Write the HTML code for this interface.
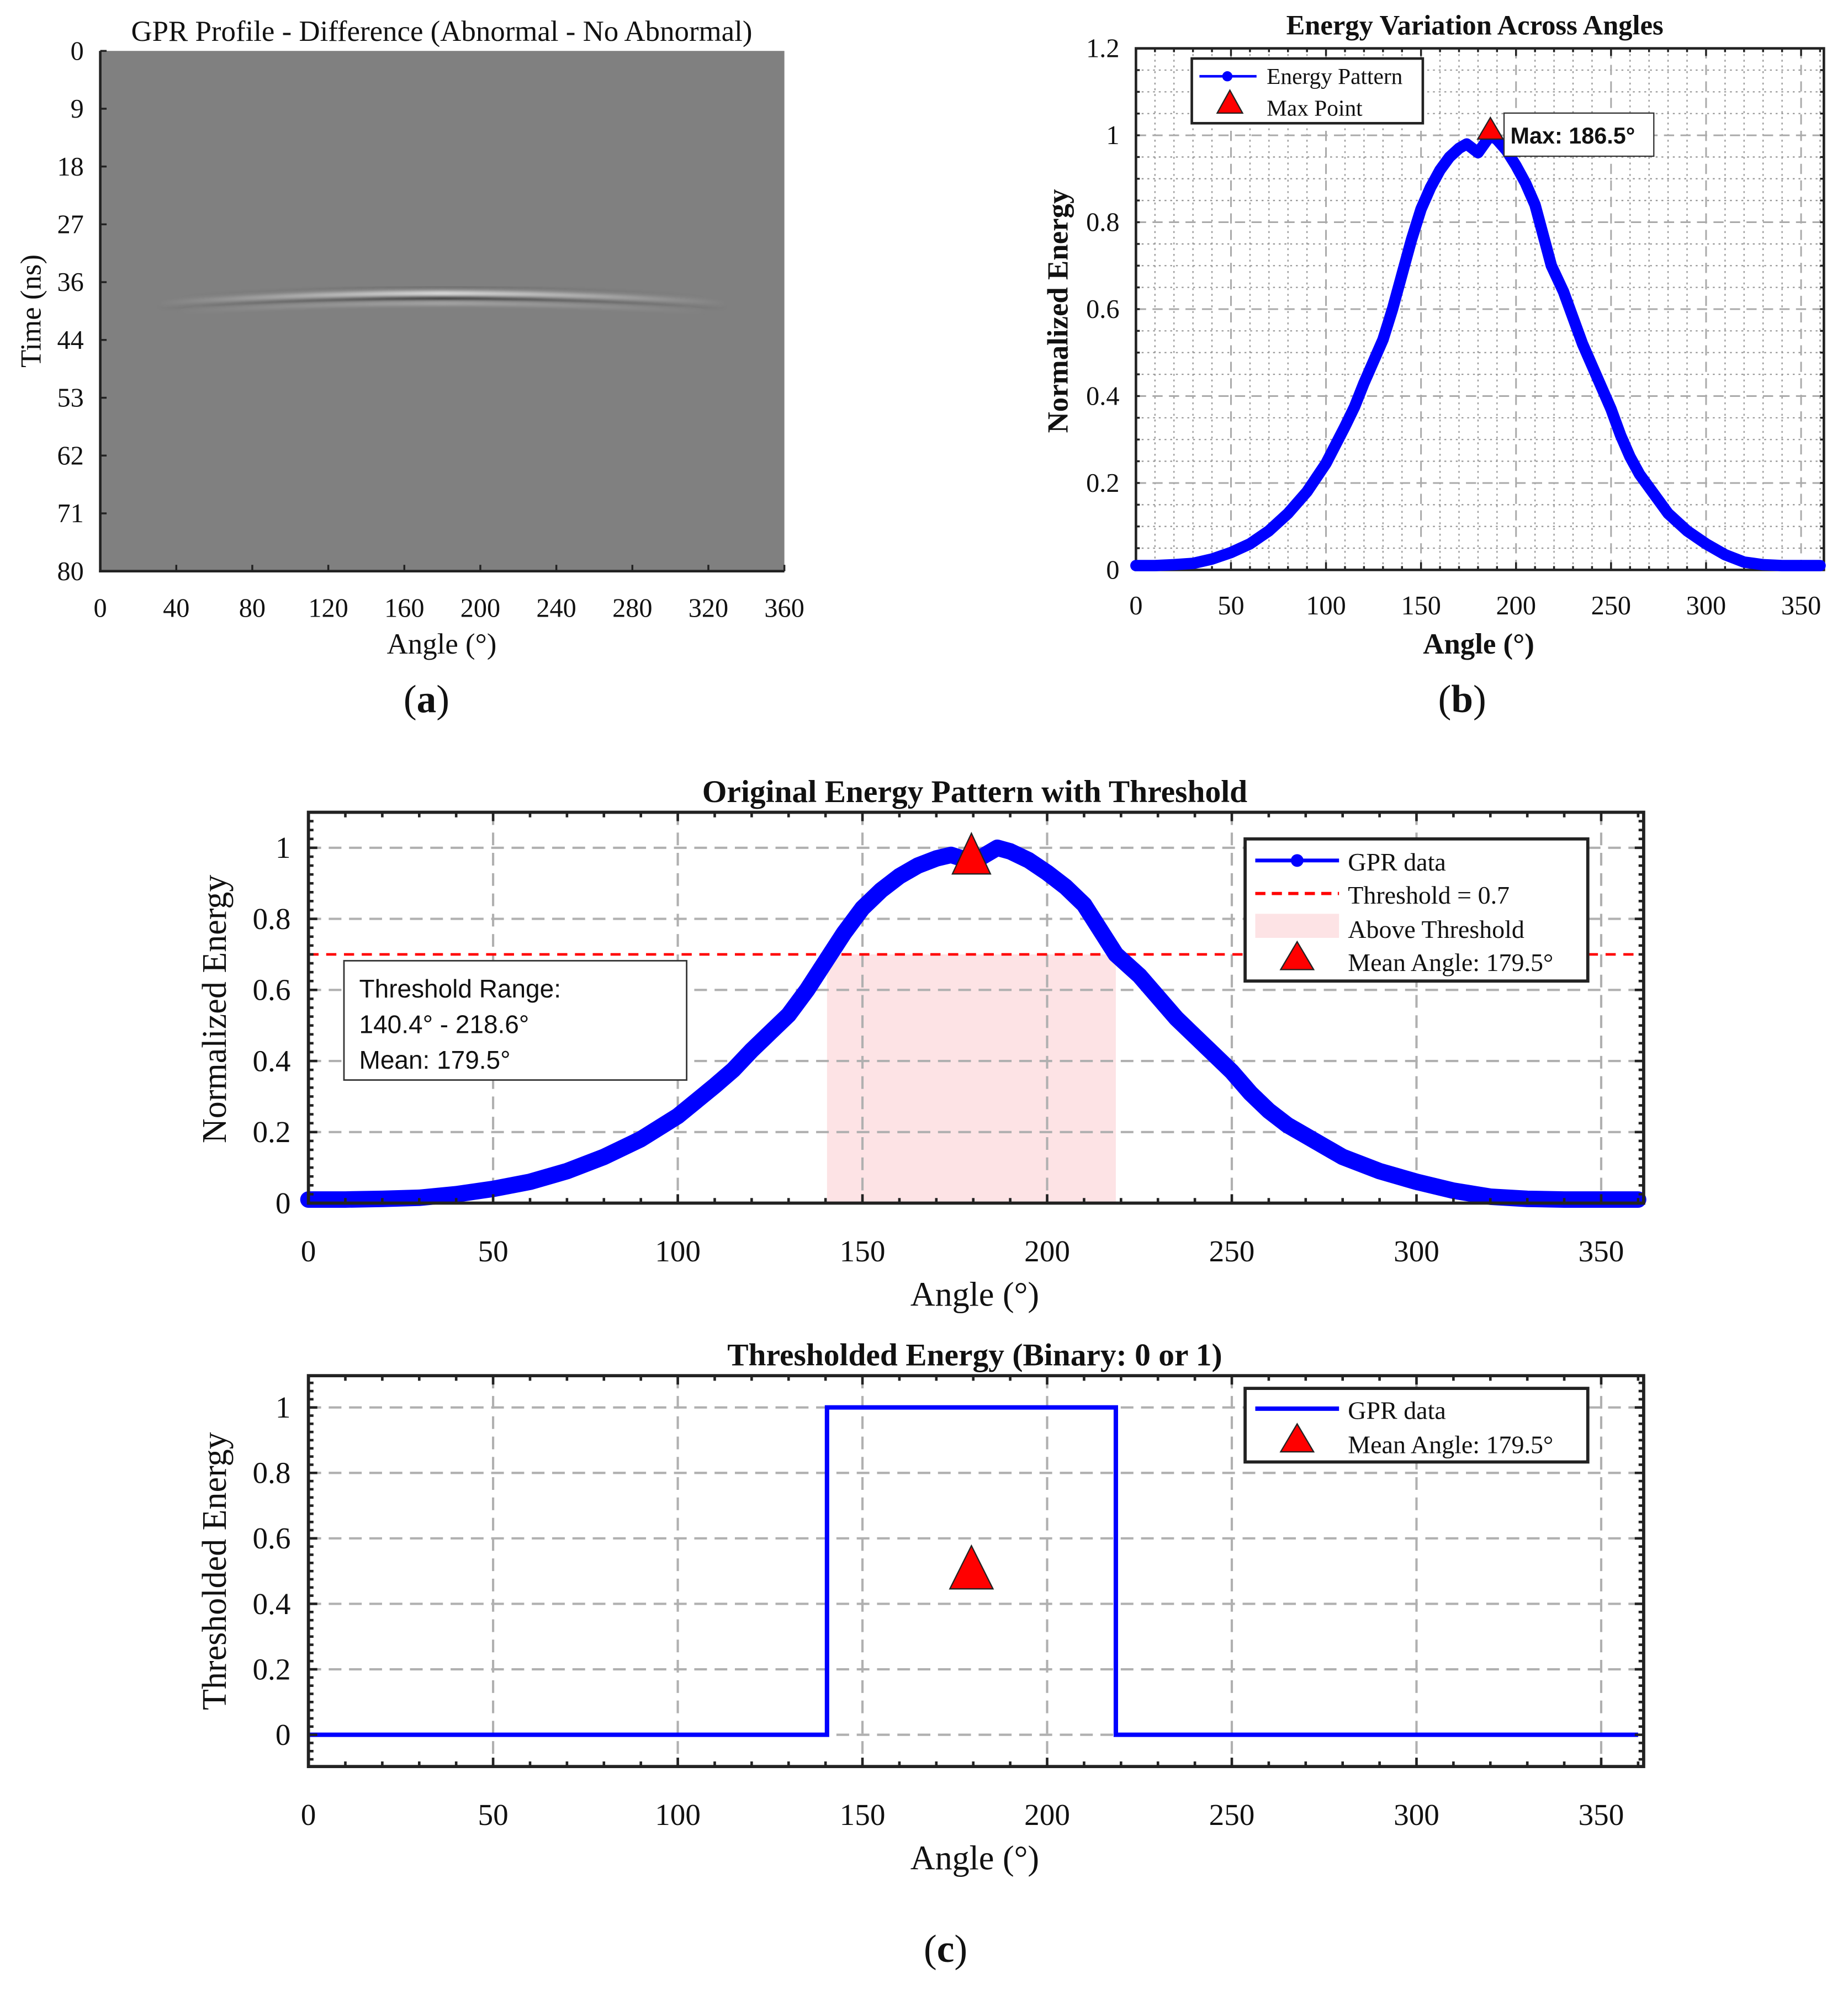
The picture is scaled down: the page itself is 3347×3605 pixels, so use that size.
<!DOCTYPE html>
<html><head><meta charset="utf-8"><style>
html,body{margin:0;padding:0;background:#fff;}
svg{display:block;}
text{font-family:"Liberation Serif",serif;fill:#111;}
.sans{font-family:"Liberation Sans",sans-serif;}
</style></head><body>
<svg id="fig" width="3347" height="3605" viewBox="0 0 1456 1568" xmlns="http://www.w3.org/2000/svg">
<defs>
<linearGradient id="fadeH" x1="0" x2="1" y1="0" y2="0">
<stop offset="0" stop-opacity="0" stop-color="#fff"/><stop offset="0.3" stop-opacity="0.6" stop-color="#fff"/><stop offset="0.5" stop-opacity="1" stop-color="#fff"/><stop offset="0.7" stop-opacity="0.6" stop-color="#fff"/><stop offset="1" stop-opacity="0" stop-color="#fff"/>
</linearGradient>
<linearGradient id="fadeD" x1="0" x2="1" y1="0" y2="0">
<stop offset="0" stop-opacity="0" stop-color="#000"/><stop offset="0.3" stop-opacity="0.5" stop-color="#000"/><stop offset="0.5" stop-opacity="1" stop-color="#000"/><stop offset="0.7" stop-opacity="0.5" stop-color="#000"/><stop offset="1" stop-opacity="0" stop-color="#000"/>
</linearGradient>
<filter id="blur"><feGaussianBlur stdDeviation="1.4"/></filter>
</defs>
</svg>
<script>
// ---- data ----
const angles = [0,10,20,30,40,50,60,70,80,90,100,110,115,120,125,130,135,140,145,150,155,160,165,170,174,180,186.5,190,195,200,205,210,218.6,225,230,235,240,245,250,255,260,265,270,275,280,285,290,300,310,320,330,340,350,360];
const energy = [0.01,0.01,0.012,0.015,0.025,0.04,0.06,0.09,0.13,0.18,0.245,0.33,0.375,0.43,0.48,0.53,0.6,0.68,0.76,0.83,0.88,0.92,0.95,0.97,0.98,0.96,1.0,0.99,0.965,0.93,0.89,0.84,0.7,0.64,0.58,0.52,0.47,0.42,0.37,0.31,0.26,0.22,0.19,0.16,0.13,0.11,0.09,0.06,0.035,0.018,0.012,0.01,0.01,0.01];
const thrLow = 140.4, thrHigh = 218.6, threshold = 0.7, meanAngle = 179.5, maxAngle = 186.5, maxValue = 1.0;
const binAngles = [0, 140.4, 140.4, 218.6, 218.6, 360];
const binValues = [0, 0, 1, 1, 0, 0];
const aYTicks = ['0','9','18','27','36','44','53','62','71','80'];
const aXTicks = [0,40,80,120,160,200,240,280,320,360];
const bXTicks = [0,50,100,150,200,250,300,350];
const bYTicks = [0,0.2,0.4,0.6,0.8,1,1.2];
const cYTicks = [0,0.2,0.4,0.6,0.8,1];

const svg = document.getElementById('fig');
const NS = 'http://www.w3.org/2000/svg';
function el(tag, attrs, parent){const e=document.createElementNS(NS,tag);for(const k in attrs)e.setAttribute(k,attrs[k]);(parent||svg).appendChild(e);return e;}
function txt(s, attrs, parent){const e=el('text',attrs,parent);e.textContent=s;return e;}
function mkAx(x0,x1,y0,y1,xmin,xmax,ymin,ymax){return {sx:v=>x0+(v-xmin)/(xmax-xmin)*(x1-x0), sy:v=>y1-(v-ymin)/(ymax-ymin)*(y1-y0), x0,x1,y0,y1};}
function fmt(v){return (Math.round(v*10)/10).toString();}
function panelLabel(letter,x,y,g){
  const t=el('text',{x:x,y:y,'font-size':31,'text-anchor':'middle'},g);
  t.appendChild(document.createTextNode('('));
  const b=el('tspan',{'font-weight':'bold'},t);b.textContent=letter;
  t.appendChild(document.createTextNode(')'));
  return t;
}

// ===== Panel (a) =====
(function(){
  const g = el('g',{});
  
  
  const A = mkAx(79,618,40,450,0,360,0,80);
  const bg = el('rect',{x:79,y:40,width:539,height:410,fill:'#808080'},g);
  
  
  const cx = A.sx(180);
  const bandG = el('g',{filter:'url(#blur)'},g);
  
  
  el('path',{d:`M ${A.sx(40)} 235 Q ${cx} 220 ${A.sx(320)} 235`,stroke:'url(#fadeD)','stroke-width':3,fill:'none',opacity:0.25},bandG);
  el('path',{d:`M ${A.sx(30)} 239 Q ${cx} 223 ${A.sx(330)} 239`,stroke:'url(#fadeH)','stroke-width':3,fill:'none',opacity:0.9},bandG);
  el('path',{d:`M ${A.sx(30)} 242 Q ${cx} 227 ${A.sx(330)} 242`,stroke:'url(#fadeD)','stroke-width':3.5,fill:'none',opacity:0.95},bandG);
  el('path',{d:`M ${A.sx(40)} 246 Q ${cx} 232 ${A.sx(320)} 246`,stroke:'url(#fadeH)','stroke-width':2.5,fill:'none',opacity:0.4},bandG);
  el('line',{x1:79,y1:40,x2:79,y2:451,stroke:'#222','stroke-width':2},g);
  el('line',{x1:78,y1:450,x2:618,y2:450,stroke:'#222','stroke-width':2},g);
  aYTicks.forEach((t,i)=>{const y=40+i*410/9;el('line',{x1:79,x2:84,y1:y,y2:y,stroke:'#222','stroke-width':1.5},g);
    const tt=txt(t,{x:66,y:y+7,'font-size':21,'text-anchor':'end'},g);});
  aXTicks.forEach(t=>{const x=A.sx(t);el('line',{x1:x,x2:x,y1:450,y2:445,stroke:'#222','stroke-width':1.5},g);
    const tt=txt(t,{x:x,y:486,'font-size':21,'text-anchor':'middle'},g);});
  const ti=txt('GPR Profile - Difference (Abnormal - No Abnormal)',{x:348,y:32,'font-size':23,'text-anchor':'middle'},g);
  
  const xl=txt('Angle (°)',{x:348,y:515,'font-size':23,'text-anchor':'middle'},g);
  
  const yl=txt('Time (ns)',{x:0,y:0,'font-size':23,'text-anchor':'middle',transform:'translate(32,245) rotate(-90)'},g);
  
  const lab=panelLabel('a',336,561,g);
  
})();

// ===== Panel (b) =====
(function(){
  const g = el('g',{});
  
  
  const A = mkAx(895,1437,38,449,0,362,0,1.2);
  for(let v=10; v<362; v+=10){ if(v%50===0) continue; const x=A.sx(v); el('line',{x1:x,x2:x,y1:38,y2:449,stroke:'#999','stroke-width':1,'stroke-dasharray':'1.5,3'},g);}
  for(let v=0.05; v<1.2; v+=0.05){ if(Math.abs(v*5-Math.round(v*5))<1e-6) continue; const y=A.sy(v); el('line',{x1:895,x2:1437,y1:y,y2:y,stroke:'#999','stroke-width':1,'stroke-dasharray':'1.5,3'},g);}
  bXTicks.forEach(t=>{const x=A.sx(t); if(t>0) el('line',{x1:x,x2:x,y1:38,y2:449,stroke:'#aaa','stroke-width':1.3,'stroke-dasharray':'8,5'},g);});
  bYTicks.forEach(t=>{const y=A.sy(t); if(t>0&&t<1.2) el('line',{x1:895,x2:1437,y1:y,y2:y,stroke:'#aaa','stroke-width':1.3,'stroke-dasharray':'8,5'},g);});
  el('rect',{x:895,y:38,width:542,height:411,fill:'none',stroke:'#222','stroke-width':2},g);
  for(let v=0; v<=360; v+=10){const x=A.sx(v);const L=v%50===0?6:3;el('line',{x1:x,x2:x,y1:449,y2:449-L,stroke:'#222','stroke-width':1.5},g);el('line',{x1:x,x2:x,y1:38,y2:38+L,stroke:'#222','stroke-width':1.5},g);}
  for(let v=0; v<=1.2001; v+=0.05){const y=A.sy(v);const L=3;el('line',{x1:895,x2:895+L,y1:y,y2:y,stroke:'#222','stroke-width':1.5},g);el('line',{x1:1437,x2:1437-L,y1:y,y2:y,stroke:'#222','stroke-width':1.5},g);}
  bXTicks.forEach(t=>{const tt=txt(t,{x:A.sx(t),y:484,'font-size':21,'text-anchor':'middle'},g);});
  bYTicks.forEach(t=>{const tt=txt(fmt(t),{x:882,y:A.sy(t)+7,'font-size':21,'text-anchor':'end'},g);});
  const pts = angles.map((a,i)=>A.sx(a)+','+A.sy(energy[i])).join(' ');
  const c=el('polyline',{points:pts,fill:'none',stroke:'#0000ff','stroke-width':9,'stroke-linejoin':'round','stroke-linecap':'round'},g);
  
  const mx=A.sx(maxAngle), my=A.sy(maxValue);
  const tri=el('polygon',{points:`${mx},${my-14} ${mx-10},${my+3} ${mx+10},${my+3}`,fill:'#ff0000',stroke:'#222','stroke-width':1},g);
  
  const ab=el('rect',{x:1185,y:89,width:118,height:34,fill:'#fff',stroke:'#333','stroke-width':1},g);
  
  const at=txt('Max: '+maxAngle+'°',{x:1190,y:113,'font-size':18,'font-weight':'bold',class:'sans'},g);
  
  const lg=el('g',{},g);
  el('rect',{x:939,y:46,width:182,height:51,fill:'#fff',stroke:'#222','stroke-width':2},lg);
  el('line',{x1:945,x2:990,y1:60,y2:60,stroke:'#0000ff','stroke-width':2},lg);
  el('circle',{cx:967,cy:60,r:4,fill:'#0000ff'},lg);
  txt('Energy Pattern',{x:998,y:66,'font-size':18},lg);
  el('polygon',{points:'969,71 959,89 979,89',fill:'#ff0000',stroke:'#222','stroke-width':1},lg);
  txt('Max Point',{x:998,y:91,'font-size':18},lg);
  const ti=txt('Energy Variation Across Angles',{x:1162,y:27,'font-size':22,'font-weight':'bold','text-anchor':'middle'},g);
  
  const xl=txt('Angle (°)',{x:1165,y:515,'font-size':23,'font-weight':'bold','text-anchor':'middle'},g);
  
  const yl=txt('Normalized Energy',{x:0,y:0,'font-size':23,'font-weight':'bold','text-anchor':'middle',transform:'translate(841,245) rotate(-90)'},g);
  
  const lab=panelLabel('b',1152,561,g);
  
})();

function frameC(g, A, yMin, yMax){
  bXTicks.forEach(t=>{const x=A.sx(t); if(t>0) el('line',{x1:x,x2:x,y1:A.y0,y2:A.y1,stroke:'#b0b0b0','stroke-width':1.8,'stroke-dasharray':'10,6'},g);});
  cYTicks.forEach(t=>{const y=A.sy(t); if(t>yMin+1e-6||yMin<0) el('line',{x1:A.x0,x2:A.x1,y1:y,y2:y,stroke:'#b0b0b0','stroke-width':1.8,'stroke-dasharray':'10,6'},g);});
}
function ticksC(g, A, yMin, yMax){
  el('rect',{x:A.x0,y:A.y0,width:A.x1-A.x0,height:A.y1-A.y0,fill:'none',stroke:'#222','stroke-width':2.5},g);
  for(let v=0; v<=360; v+=10){const x=A.sx(v);const L=v%50===0?7:4;el('line',{x1:x,x2:x,y1:A.y1,y2:A.y1-L,stroke:'#222','stroke-width':2},g);el('line',{x1:x,x2:x,y1:A.y0,y2:A.y0+L,stroke:'#222','stroke-width':2},g);}
  for(let k=Math.ceil(yMin/0.025); k*0.025<=yMax+1e-6; k++){const v=k*0.025;const y=A.sy(v);const L=(Math.abs(v*5-Math.round(v*5))<1e-6)?7:4;el('line',{x1:A.x0,x2:A.x0+L,y1:y,y2:y,stroke:'#222','stroke-width':2},g);el('line',{x1:A.x1,x2:A.x1-L,y1:y,y2:y,stroke:'#222','stroke-width':2},g);}
  bXTicks.forEach(t=>{const tt=txt(t,{x:A.sx(t),y:A.y1+46,'font-size':24,'text-anchor':'middle'},g);});
  cYTicks.forEach(t=>{const tt=txt(fmt(t),{x:A.x0-14,y:A.sy(t)+8,'font-size':24,'text-anchor':'end'},g);});
  const xl=txt('Angle (°)',{x:768,y:A.y1+81,'font-size':27,'text-anchor':'middle'},g);
  
}

(function(){
  const g = el('g',{});
  
  
  const A = mkAx(243,1295,640,948,0,361.5,0,1.1);
  const sh=el('rect',{x:A.sx(thrLow),y:A.sy(threshold),width:A.sx(thrHigh)-A.sx(thrLow),height:A.sy(0)-A.sy(threshold),fill:'#fde3e5'},g);
  
  frameC(g,A,0,1.1);
  const th=el('line',{x1:A.x0,x2:A.x1,y1:A.sy(threshold),y2:A.sy(threshold),stroke:'#ff0000','stroke-width':2,'stroke-dasharray':'8,6'},g);
  
  const pts = angles.map((a,i)=>A.sx(a)+','+A.sy(energy[i])).join(' ');
  const c=el('polyline',{points:pts,fill:'none',stroke:'#0000ff','stroke-width':13,'stroke-linejoin':'round','stroke-linecap':'round'},g);
  
  ticksC(g,A,0,1.1);
  const mx=A.sx(meanAngle), my=A.sy(0.98);
  const tri=el('polygon',{points:`${mx},${my-17} ${mx-15},${my+15} ${mx+15},${my+15}`,fill:'#ff0000',stroke:'#222','stroke-width':1},g);
  
  const bx=el('g',{},g);
  el('rect',{x:271,y:757,width:270,height:94,fill:'#fff',stroke:'#333','stroke-width':1.2},bx);
  txt('Threshold Range:',{x:283,y:786,'font-size':20,class:'sans'},bx);
  txt(thrLow+'° - '+thrHigh+'°',{x:283,y:814,'font-size':20,class:'sans'},bx);
  txt('Mean: '+meanAngle+'°',{x:283,y:842,'font-size':20,class:'sans'},bx);
  const lg=el('g',{},g);
  el('rect',{x:981,y:661,width:270,height:112,fill:'#fff',stroke:'#222','stroke-width':2.5},lg);
  el('line',{x1:989,x2:1055,y1:678,y2:678,stroke:'#0000ff','stroke-width':3},lg);
  el('circle',{cx:1022,cy:678,r:5,fill:'#0000ff'},lg);
  txt('GPR data',{x:1062,y:686,'font-size':20},lg);
  el('line',{x1:989,x2:1055,y1:704,y2:704,stroke:'#ff0000','stroke-width':2.5,'stroke-dasharray':'8,5'},lg);
  txt('Threshold = '+threshold,{x:1062,y:712,'font-size':20},lg);
  el('rect',{x:989,y:720,width:66,height:19,fill:'#fde3e5'},lg);
  txt('Above Threshold',{x:1062,y:739,'font-size':20},lg);
  el('polygon',{points:'1022,742 1009,764 1035,764',fill:'#ff0000',stroke:'#222','stroke-width':1},lg);
  txt('Mean Angle: '+meanAngle+'°',{x:1062,y:765,'font-size':20},lg);
  const ti=txt('Original Energy Pattern with Threshold',{x:768,y:632,'font-size':25,'font-weight':'bold','text-anchor':'middle'},g);
  
  const yl=txt('Normalized Energy',{x:0,y:0,'font-size':27,'text-anchor':'middle',transform:'translate(178,795) rotate(-90)'},g);
  
})();

(function(){
  const g = el('g',{});
  
  
  const A = mkAx(243,1295,1084,1392,0,361.5,-0.097,1.097);
  frameC(g,A,-0.097,1.097);
  const pts = binAngles.map((a,i)=>A.sx(a)+','+A.sy(binValues[i])).join(' ');
  const c=el('polyline',{points:pts,fill:'none',stroke:'#0000ff','stroke-width':3.5},g);
  
  ticksC(g,A,-0.097,1.097);
  const mx=A.sx(meanAngle), my=A.sy(0.5);
  const tri=el('polygon',{points:`${mx},${my-20} ${mx-17},${my+14} ${mx+17},${my+14}`,fill:'#ff0000',stroke:'#222','stroke-width':1},g);
  
  const lg=el('g',{},g);
  el('rect',{x:981,y:1094,width:270,height:58,fill:'#fff',stroke:'#222','stroke-width':2.5},lg);
  el('line',{x1:989,x2:1055,y1:1110,y2:1110,stroke:'#0000ff','stroke-width':3.5},lg);
  txt('GPR data',{x:1062,y:1118,'font-size':20},lg);
  el('polygon',{points:'1022,1122 1009,1144 1035,1144',fill:'#ff0000',stroke:'#222','stroke-width':1},lg);
  txt('Mean Angle: '+meanAngle+'°',{x:1062,y:1145,'font-size':20},lg);
  const ti=txt('Thresholded Energy (Binary: 0 or 1)',{x:768,y:1076,'font-size':25,'font-weight':'bold','text-anchor':'middle'},g);
  
  const yl=txt('Thresholded Energy',{x:0,y:0,'font-size':27,'text-anchor':'middle',transform:'translate(178,1238) rotate(-90)'},g);
  
  const lab=panelLabel('c',745,1546,g);
  
})();
</script>
</body></html>
